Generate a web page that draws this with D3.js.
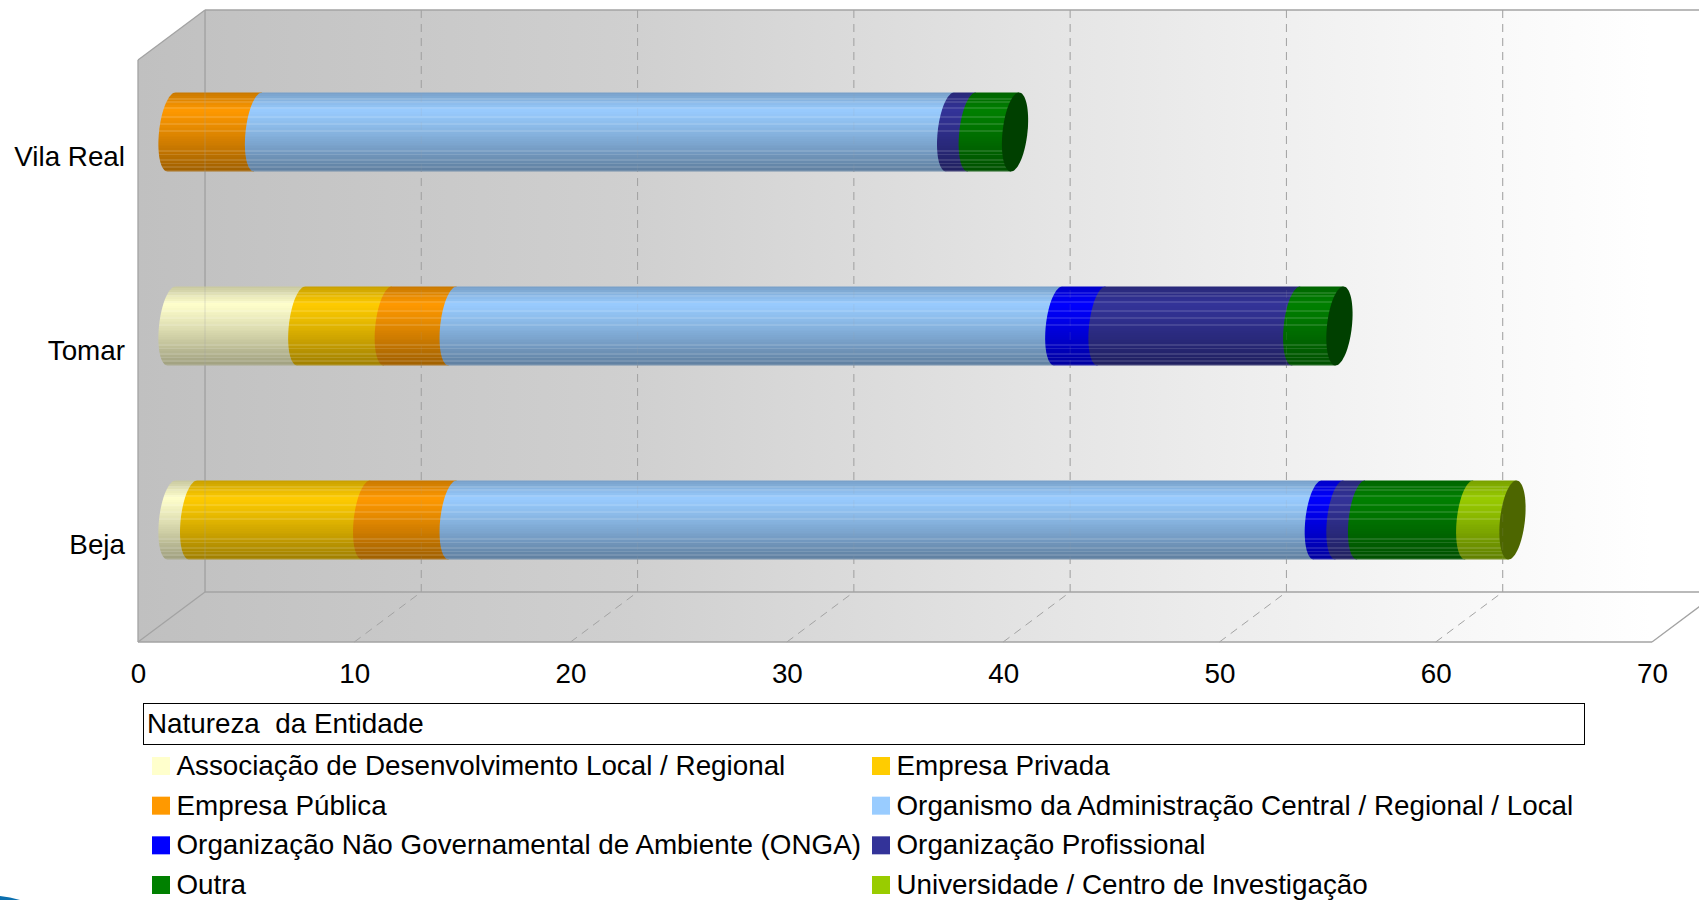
<!DOCTYPE html>
<html>
<head>
<meta charset="utf-8">
<title>Natureza da Entidade</title>
<script src="https://cdn.jsdelivr.net/npm/d3@7"></script>
<style>
  html, body { margin: 0; padding: 0; background: #fff; overflow: hidden; }
  svg { display: block; }
  text { font-family: "Liberation Sans", Arial, sans-serif; fill: #000; }
</style>
</head>
<body>
<svg id="chart" width="1699" height="900"></svg>
<script>
// dados
const categories = ['Beja', 'Tomar', 'Vila Real'];
const seriesNames = [
  'Associação de Desenvolvimento Local / Regional',
  'Empresa Privada',
  'Empresa Pública',
  'Organismo da Administração Central / Regional / Local',
  'Organização Não Governamental de Ambiente (ONGA)',
  'Organização Profissional',
  'Outra',
  'Universidade / Centro de Investigação'
];
const seriesColors = ['#ffffcc', '#ffcc00', '#ff9900', '#99ccff', '#0000ff', '#333399', '#008000', '#99cc00'];
const associacao = [1, 6, 0];
const empresaPrivada = [8, 4, 0];
const empresaPublica = [4, 3, 4];
const organismo = [40, 28, 32];
const onga = [1, 2, 0];
const profissional = [1, 9, 1];
const outra = [5, 2, 2];
const universidade = [2, 0, 0];
const xTicks = [0, 10, 20, 30, 40, 50, 60, 70];
const legendTitle = 'Natureza  da Entidade';

const allSeries = [associacao, empresaPrivada, empresaPublica, organismo, onga, profissional, outra, universidade];
const rows = categories.map((c, i) => {
  const r = { category: c };
  seriesNames.forEach((s, j) => { r[s] = allSeries[j][i]; });
  return r;
});
const stacked = d3.stack().keys(seriesNames)(rows);

// geometria
const svg = d3.select('#chart');
const defs = svg.append('defs');
const depthX = 67, depthY = 50;
const fontSize = 27.8;
const x = d3.scaleLinear().domain([0, 70]).range([138, 1652]);
const frontTop = 60, frontBottom = 642;
// as barras ficam a meio da profundidade
const y = d3.scaleBand().domain(categories).range([frontBottom - depthY / 2, frontTop - depthY / 2])
  .paddingInner(0.593).paddingOuter(0.2965);
const midX = v => x(v) + depthX / 2;

// fundo em gradiente
const bg = defs.append('linearGradient').attr('id', 'wall').attr('gradientUnits', 'userSpaceOnUse')
  .attr('x1', x(0)).attr('x2', x(70)).attr('y1', 0).attr('y2', 0);
[[0, '#c0c0c0'], [0.33, '#d0d0d0'], [0.62, '#e6e6e6'], [0.85, '#f6f6f6'], [1, '#ffffff']].forEach(s => {
  bg.append('stop').attr('offset', s[0]).attr('stop-color', s[1]);
});

const poly = pts => 'M' + pts.map(p => p.join(',')).join('L') + 'Z';
const backX = v => x(v) + depthX;
const backTop = frontTop - depthY, backBottom = frontBottom - depthY;
const frame = '#a3a3a3';

svg.append('path').attr('fill', 'url(#wall)')
  .attr('d', poly([[x(0), frontTop], [backX(0), backTop], [backX(70), backTop], [backX(70), backBottom], [x(70), frontBottom], [x(0), frontBottom]]));

// linhas de grelha
const drawGrid = (opacity) => {
  const g = svg.append('g').attr('opacity', opacity);
  g.selectAll('.back').data(xTicks.slice(1, -1)).join('line')
    .attr('x1', d => backX(d)).attr('x2', d => backX(d))
    .attr('y1', backTop).attr('y2', backBottom)
    .attr('stroke', frame).attr('stroke-width', 1).attr('stroke-dasharray', '8 6');
  return g;
};
drawGrid(1).selectAll('.floor').data(xTicks.slice(1, -1)).join('line')
  .attr('x1', d => x(d)).attr('x2', d => backX(d))
  .attr('y1', frontBottom).attr('y2', backBottom)
  .attr('stroke', frame).attr('stroke-width', 1).attr('stroke-dasharray', '8 6');

// molduras
const frameLines = [
  [x(0), frontTop, backX(0), backTop],
  [backX(0), backTop, 1699, backTop],
  [x(0), frontTop, x(0), frontBottom],
  [backX(0), backTop, backX(0), backBottom],
  [backX(0), backBottom, 1699, backBottom],
  [x(0), frontBottom, backX(0), backBottom],
  [x(0), frontBottom, x(70), frontBottom],
  [x(70), frontBottom, backX(70), backBottom]
];
svg.append('g').selectAll('line').data(frameLines).join('line')
  .attr('x1', d => d[0]).attr('y1', d => d[1]).attr('x2', d => d[2]).attr('y2', d => d[3])
  .attr('stroke', frame).attr('stroke-width', 1.3);

// sombreado em bandas do cilindro
const bands = 44;
const lightBands = new Set([3, 5, 8, 13, 17, 21, 32, 34, 37, 39, 41, 43]);
const shade = d3.scaleLinear().domain([0, 0.22, 0.55, 1]).range([0.78, 1, 0.86, 0.62]);
seriesColors.forEach((c, i) => {
  const grad = defs.append('linearGradient').attr('id', 'bar' + i).attr('x1', 0).attr('x2', 0).attr('y1', 0).attr('y2', 1);
  d3.range(bands).forEach(b => {
    const col = d3.rgb(c);
    const k = shade((b + 0.5) / bands);
    let out = d3.rgb(col.r * k, col.g * k, col.b * k);
    if (lightBands.has(b)) out = d3.interpolateRgb(out, '#ffffff')(0.12);
    grad.append('stop').attr('offset', b / bands).attr('stop-color', out);
    grad.append('stop').attr('offset', (b + 1) / bands).attr('stop-color', out);
  });
});

// elipse inclinada das pontas
const capRx = 12.5, capTilt = 4;
const capPoint = (cx, cy, t) => [
  cx + capRx * Math.cos(t) + capTilt * Math.sin(t),
  cy - y.bandwidth() / 2 * Math.sin(t)
];
const line = d3.line();

const segmentPath = (x0, x1, cat) => {
  const cy = y(cat) + y.bandwidth() / 2;
  const pts = d3.range(0, 37).map(k => capPoint(x0, cy, Math.PI / 2 + k / 36 * Math.PI));
  pts.push(capPoint(x1, cy, -Math.PI / 2));
  pts.push(capPoint(x1, cy, Math.PI / 2));
  return line(pts) + 'Z';
};
const capPath = (x0, cat) => {
  const cy = y(cat) + y.bandwidth() / 2;
  return line(d3.range(0, 73).map(k => capPoint(x0, cy, k / 72 * 2 * Math.PI))) + 'Z';
};

const barLayer = svg.append('g');
stacked.forEach((layer, i) => {
  barLayer.append('g').selectAll('path')
    .data(layer.filter(d => d[1] > d[0]))
    .join('path')
    .attr('fill', 'url(#bar' + i + ')')
    .attr('d', d => segmentPath(midX(d[0]), midX(d[1]), d.data.category));
});
// tampa do topo da barra
categories.forEach((c, ci) => {
  let last = 0;
  stacked.forEach((layer, i) => { if (layer[ci][1] > layer[ci][0]) last = i; });
  const col = d3.rgb(seriesColors[last]);
  barLayer.append('path')
    .attr('fill', d3.rgb(col.r * 0.5, col.g * 0.5, col.b * 0.5))
    .attr('d', capPath(midX(stacked[last][ci][1]), c));
});

// a grelha nota-se um pouco através das barras
drawGrid(0.14);
svg.append('g').attr('opacity', 0.25).append('line')
  .attr('x1', backX(0)).attr('x2', backX(0)).attr('y1', backTop).attr('y2', backBottom)
  .attr('stroke', frame).attr('stroke-width', 1.3);

// eixos
const xAxis = svg.append('g').attr('transform', `translate(0,${frontBottom})`)
  .call(d3.axisBottom(x).tickValues(xTicks).tickSize(0).tickPadding(21));
const yAxis = svg.append('g').attr('transform', `translate(125,${depthY / 2})`)
  .call(d3.axisLeft(y).tickSize(0).tickPadding(0));
[xAxis, yAxis].forEach(a => {
  a.select('.domain').remove();
  a.selectAll('text').style('font-family', '"Liberation Sans", Arial, sans-serif').style('font-size', fontSize + 'px');
});

// legenda
svg.append('rect').attr('x', 143.5).attr('y', 703.5).attr('width', 1441).attr('height', 41)
  .attr('fill', '#fff').attr('stroke', '#000').attr('stroke-width', 1);
svg.append('text').attr('x', 147).attr('y', 733).attr('font-size', fontSize).attr('xml:space', 'preserve').style('white-space', 'pre').text(legendTitle);

const legendY = d3.scalePoint().domain([0, 1, 2, 3]).range([766, 885]);
const legendX = d3.scalePoint().domain([0, 1]).range([152, 872]);
const item = svg.append('g').selectAll('g').data(seriesNames).join('g')
  .attr('transform', (d, i) => `translate(${legendX(i % 2)},${legendY(Math.floor(i / 2))})`);
item.append('rect').attr('x', 0).attr('y', -9).attr('width', 18).attr('height', 18)
  .attr('fill', (d, i) => seriesColors[i]);
item.append('text').attr('x', 24.5).attr('y', 9).attr('font-size', fontSize).text(d => d);

// resto do logotipo no canto
svg.append('path').attr('fill', '#0b6fae').attr('d', 'M0,896 Q10,897 20,900 L0,900Z');
</script>
</body>
</html>
